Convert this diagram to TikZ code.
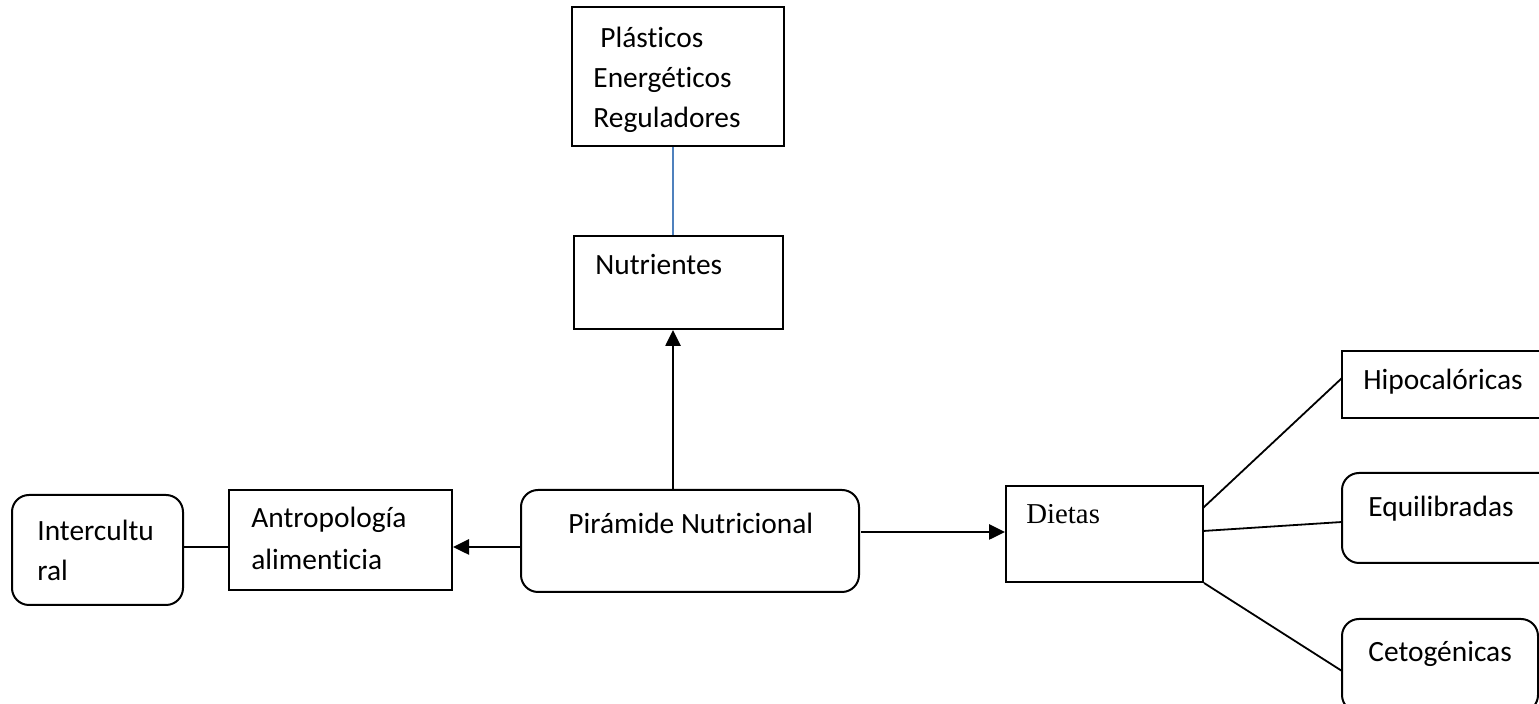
\documentclass[tikz,border=0pt]{standalone}
\usepackage{fontspec}
\setmainfont[Ligatures=NoCommon]{Carlito}
\newfontfamily\serifdiet{Liberation Serif}
\usetikzlibrary{arrows.meta}

\tikzset{
  box/.style={draw=black, line width=1pt, rectangle, inner sep=0pt},
  rbox/.style={box, rounded corners=8.5pt},
  lbl/.style={anchor=base west, inner sep=0pt, font=\fontsize{14.7}{20}\selectfont},
  link/.style={draw=black, line width=0.9pt},
  arr/.style={draw=black, line width=1.3pt, -{Triangle[length=8pt,width=7.5pt]}},
  bluelink/.style={draw={rgb,255:red,79;green,129;blue,189}, line width=0.9pt}
}

\begin{document}
\begin{tikzpicture}[x=0.5pt, y=-0.5pt]
\useasboundingbox (0,0) rectangle (1539,704);

% boxes
\node[box, minimum width=106pt, minimum height=69.5pt] (plas) at (678,76.5) {};
\node[box, minimum width=104.5pt, minimum height=46.5pt] (nutr) at (678.5,282.5) {};
\node[rbox, minimum width=169pt, minimum height=51pt] (pir) at (690,541) {};
\node[box, minimum width=98.5pt, minimum height=48pt] (diet) at (1104.5,534) {};
\node[box, minimum width=111.5pt, minimum height=50pt] (antro) at (340.5,540) {};
\node[rbox, minimum width=85.5pt, minimum height=55pt] (inter) at (97.5,550) {};
\node[box, minimum width=110pt, minimum height=33.5pt] (hipo) at (1452,384.5) {};
\node[rbox, minimum width=110pt, minimum height=45pt] (equi) at (1452,518) {};
\node[rbox, minimum width=98pt, minimum height=46.5pt] (ceto) at (1440,665.5) {};

% texts
\node[lbl] (tplas) at (600,48) {Plásticos};
\node[lbl] (tener) at (593,88) {Energéticos};
\node[lbl] (treg) at (593,128) {Reguladores};
\node[lbl] (tnutr) at (595,275) {Nutrientes};
\node[lbl] (tpir) at (568,534) {Pirámide Nutricional};
\node[lbl, font=\serifdiet\fontsize{14.4}{20}\selectfont] (tdiet) at (1026,524) {Dietas};
\node[lbl] (tantro1) at (251,528) {Antropología};
\node[lbl] (tantro2) at (251,570) {alimenticia};
\node[lbl] (tinter1) at (37,541) {Intercultu};
\node[lbl] (tinter2) at (37,581) {ral};
\node[lbl] (thipo) at (1363,390) {Hipocalóricas};
\node[lbl] (tequi) at (1368,517) {Equilibradas};
\node[lbl] (tceto) at (1368,662) {Cetogénicas};

% reference levels for the connectors
\coordinate (axis) at (673,0);
\coordinate (yleft) at (0,547);
\coordinate (yright) at (0,532);
\coordinate (startR) at (861,532);
\coordinate (d1) at (1203,508);
\coordinate (d2) at (1203,531);
\coordinate (h1) at (1342,378);
\coordinate (e1) at (1342,522);
\coordinate (c1) at (1342,671);

% connectors
\draw[bluelink] (plas.south -| axis) -- (nutr.north -| axis);
\draw[arr] (pir.north -| axis) -- (nutr.south -| axis);
\draw[arr] (startR) -- (diet.west |- yright);
\draw[arr] (pir.west |- yleft) -- (antro.east |- yleft);
\draw[link] (inter.east |- yleft) -- (antro.west |- yleft);
\draw[link] (d1) -- (h1);
\draw[link] (d2) -- (e1);
\draw[link] (diet.south east) -- (c1);
\end{tikzpicture}
\end{document}
